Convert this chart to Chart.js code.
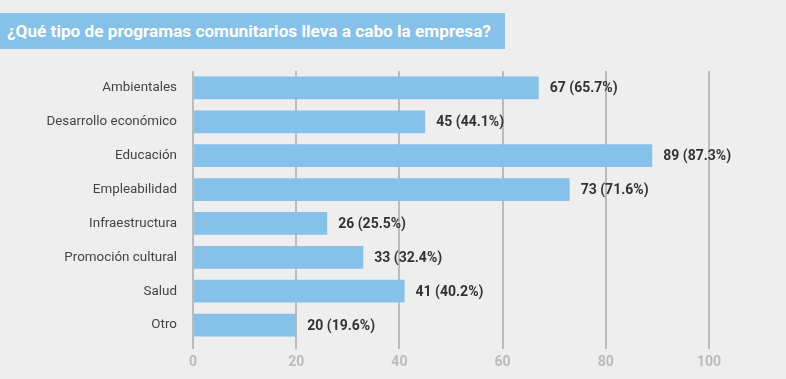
<!DOCTYPE html>
<html>
<head>
<meta charset="utf-8">
<script src="https://cdn.jsdelivr.net/npm/chart.js@4/dist/chart.umd.min.js"></script>
<style>
  html, body { margin: 0; padding: 0; background: #eeeeee; }
  #wrap { position: relative; width: 786px; height: 379px; overflow: hidden; background: #eeeeee; }
  #title { position: absolute; left: 0; top: 13px; width: 498px; height: 36px; padding-left: 7px;
           background: #85c1e9; color: #ffffff; font: bold 17.2px Roboto, sans-serif; line-height: 36px; white-space: nowrap; }
  canvas { position: absolute; left: 0; top: 0; }
</style>
</head>
<body>
<div id="wrap">
  <canvas id="c" width="786" height="379"></canvas>
  <div id="title">¿Qué tipo de programas comunitarios lleva a cabo la empresa?</div>
</div>
<script>
const categories = ["Ambientales", "Desarrollo económico", "Educación", "Empleabilidad", "Infraestructura", "Promoción cultural", "Salud", "Otro"];
const counts = [67, 45, 89, 73, 26, 33, 41, 20];
const percents = ["65.7", "44.1", "87.3", "71.6", "25.5", "32.4", "40.2", "19.6"];
const xTicks = [0, 20, 40, 60, 80, 100];

const valueLabels = {
  id: 'valueLabels',
  afterDatasetsDraw(chart) {
    const ctx = chart.ctx;
    const meta = chart.getDatasetMeta(0);
    ctx.save();
    ctx.font = 'bold 14px Roboto, sans-serif';
    ctx.fillStyle = '#333333';
    ctx.textAlign = 'left';
    ctx.textBaseline = 'middle';
    meta.data.forEach((bar, i) => {
      ctx.fillText(counts[i] + ' (' + percents[i] + '%)', bar.x + 11, bar.y + 1);
    });
    ctx.restore();
  }
};

new Chart(document.getElementById('c'), {
  type: 'bar',
  data: {
    labels: categories,
    datasets: [{
      data: counts,
      backgroundColor: '#85c1e9',
      borderWidth: 0,
      barPercentage: 0.675,
      categoryPercentage: 1.0
    }]
  },
  options: {
    indexAxis: 'y',
    responsive: false,
    animation: false,
    layout: { padding: { top: 71, right: 77, left: 0, bottom: 0 } },
    plugins: { legend: { display: false }, tooltip: { enabled: false } },
    scales: {
      x: {
        min: 0, max: 100,
        afterBuildTicks(scale) { scale.ticks = xTicks.map(v => ({ value: v })); },
        afterFit(scale) { scale.height = 37; },
        grid: { color: '#bbbbbb', lineWidth: 2, tickLength: 7, drawTicks: true, tickColor: '#bbbbbb' },
        border: { display: false },
        ticks: { color: '#bbbbbb', padding: 5, font: { family: 'Roboto', size: 14, weight: 'bold' } }
      },
      y: {
        afterFit(scale) { scale.width = 193; },
        grid: { display: false, drawTicks: false },
        border: { display: false },
        ticks: { color: '#444444', padding: 16, font: { family: 'Roboto', size: 13.4 } }
      }
    }
  },
  plugins: [valueLabels]
});
</script>
</body>
</html>
